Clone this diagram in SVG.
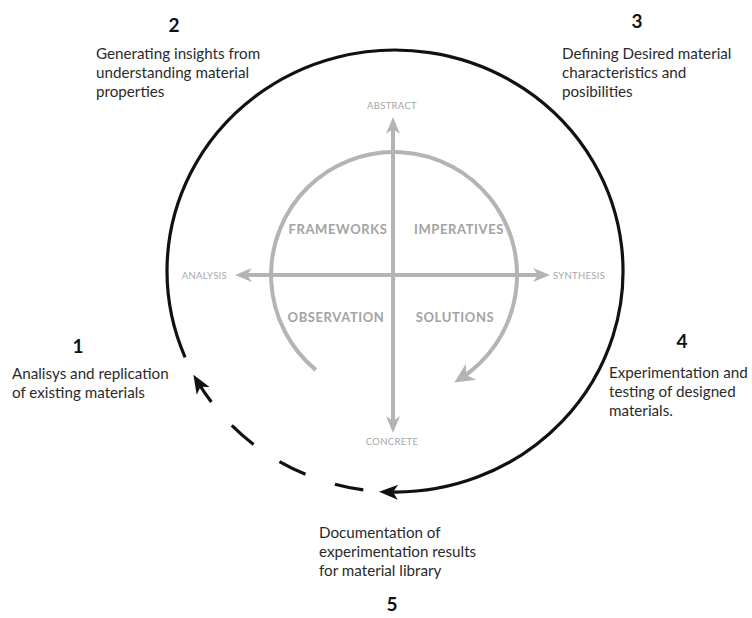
<svg xmlns="http://www.w3.org/2000/svg" width="752" height="618" viewBox="0 0 752 618">
  <style>
    .num { font-family: Lato, "Noto Sans", sans-serif; font-weight: 700; font-size: 19px; fill: #111; text-anchor: middle; }
    .desc { font-family: Lato, "Noto Sans", sans-serif; font-size: 15.2px; fill: #2a2a2a; }
    .axis { font-family: Lato, "Noto Sans", sans-serif; font-size: 9.5px; fill: #a6a6a6; letter-spacing: 0.3px; }
    .quad { font-family: Lato, "Noto Sans", sans-serif; font-weight: 700; font-size: 13px; fill: #a3a3a3; text-anchor: middle; letter-spacing: 0.6px; }
    .cycle { fill: none; stroke: #111; stroke-width: 3.2; }
    .gray { fill: none; stroke: #b4b4b4; stroke-width: 4; }
  </style>
  <defs>
    <marker id="ahBlack" markerUnits="userSpaceOnUse" markerWidth="30" markerHeight="30" viewBox="-15 -15 30 30" refX="0" refY="0" orient="auto">
      <path d="M8,0 L-11,-7.5 L-6,0 L-11,7.5 Z" fill="#111"/>
    </marker>
    <marker id="ahGray" markerUnits="userSpaceOnUse" markerWidth="30" markerHeight="30" viewBox="-15 -15 30 30" refX="0" refY="0" orient="auto-start-reverse">
      <path d="M8,0 L-9,-7 L-4,0 L-9,7 Z" fill="#b4b4b4"/>
    </marker>
    <marker id="ahGrayBig" markerUnits="userSpaceOnUse" markerWidth="34" markerHeight="34" viewBox="-17 -17 34 34" refX="0" refY="0" orient="auto">
      <path d="M8,0 L-12,-9.5 L-6,0 L-12,9.5 Z" fill="#b4b4b4"/>
    </marker>
  </defs>

  <g id="connectors">
    <!-- outer cycle: solid part -->
    <path id="cycle-solid" class="cycle" d="M185.1,357.3 A228,221 0 1 1 387.0,491.9" marker-end="url(#ahBlack)"/>
    <!-- outer cycle: dashed part -->
    <path id="cycle-dashed" class="cycle" stroke-dasharray="29 31" d="M363.3,489.9 A228,221 0 0 1 197.5,381.5" marker-end="url(#ahBlack)"/>
    <!-- inner gray cycle -->
    <path id="inner-cycle" class="gray" stroke-width="5" d="M315.8,369.9 A123,123 0 1 1 461.0,378.2" marker-end="url(#ahGrayBig)"/>
    <!-- axes -->
    <line id="axis-vertical" class="gray" x1="393" y1="125" x2="393" y2="425" marker-start="url(#ahGray)" marker-end="url(#ahGray)"/>
    <line id="axis-horizontal" class="gray" x1="243" y1="275" x2="542" y2="275" marker-start="url(#ahGray)" marker-end="url(#ahGray)"/>
  </g>

  <g id="axis-labels">
    <text class="axis" x="392" y="108.5" text-anchor="middle">ABSTRACT</text>
    <text class="axis" x="392" y="445" text-anchor="middle">CONCRETE</text>
    <text class="axis" x="227" y="279" text-anchor="end">ANALYSIS</text>
    <text class="axis" x="553" y="279">SYNTHESIS</text>
  </g>

  <g id="quadrants">
    <text class="quad" x="338" y="234">FRAMEWORKS</text>
    <text class="quad" x="459" y="234">IMPERATIVES</text>
    <text class="quad" x="336" y="322">OBSERVATION</text>
    <text class="quad" x="455" y="322">SOLUTIONS</text>
  </g>

  <g id="step-1">
    <text class="num" x="78" y="353">1</text>
    <text class="desc" x="12" y="379">Analisys and replication</text>
    <text class="desc" x="12" y="398">of existing materials</text>
  </g>

  <g id="step-2">
    <text class="num" x="174" y="32">2</text>
    <text class="desc" x="96" y="59">Generating insights from</text>
    <text class="desc" x="96" y="78">understanding material</text>
    <text class="desc" x="96" y="97">properties</text>
  </g>

  <g id="step-3">
    <text class="num" x="637" y="28">3</text>
    <text class="desc" x="562" y="59">Defining Desired material</text>
    <text class="desc" x="562" y="78">characteristics and</text>
    <text class="desc" x="562" y="97">posibilities</text>
  </g>

  <g id="step-4">
    <text class="num" x="682" y="348">4</text>
    <text class="desc" x="609" y="378">Experimentation and</text>
    <text class="desc" x="609" y="397">testing of designed</text>
    <text class="desc" x="609" y="416">materials.</text>
  </g>

  <g id="step-5">
    <text class="desc" x="319" y="538">Documentation of</text>
    <text class="desc" x="319" y="557">experimentation results</text>
    <text class="desc" x="319" y="576">for material library</text>
    <text class="num" x="392" y="611">5</text>
  </g>
</svg>
